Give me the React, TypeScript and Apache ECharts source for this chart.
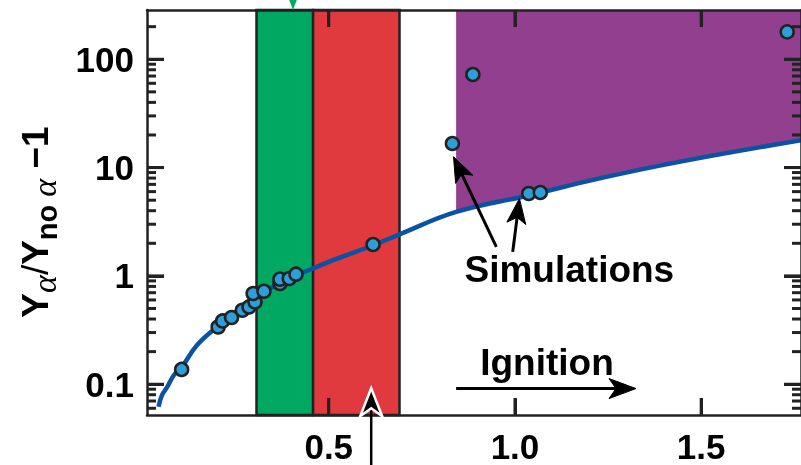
import React, { useEffect, useRef } from 'react';
import * as echarts from 'echarts';

// ---- data ----
const curveX = [0.043, 0.052, 0.066, 0.084, 0.106, 0.146, 0.2, 0.28, 0.325, 0.414, 0.468, 0.512, 0.619, 0.69, 0.842, 1.039, 1.227, 1.441, 1.768];
const curveY = [0.062, 0.079, 0.094, 0.121, 0.145, 0.229, 0.338, 0.556, 0.712, 1.015, 1.21, 1.4, 1.92, 2.42, 3.9, 5.56, 7.95, 11.3, 17.9];

const simX = [0.105, 0.203, 0.215, 0.239, 0.268, 0.286, 0.302, 0.297, 0.326, 0.369, 0.369, 0.394, 0.412, 0.619, 0.832, 0.887, 1.037, 1.068, 1.731];
const simY = [0.137, 0.338, 0.384, 0.413, 0.482, 0.517, 0.575, 0.688, 0.722, 0.851, 0.933, 0.946, 1.037, 1.95, 16.7, 72.4, 5.77, 5.89, 179];

const greenBand = [0.306, 0.458];
const redBand = [0.458, 0.69];
const purpleStart = 0.842;

const xTicks = [0.5, 1.0, 1.5];
const xTickLabels = ['0.5', '1.0', '1.5'];
const yTicks = [0.1, 1, 10, 100];
const yTickLabels = ['0.1', '1', '10', '100'];
const yMinorMultipliers = [2, 3, 4, 5, 6, 7, 8, 9];
const yMinorDecades = [0.01, 0.1, 1, 10, 100];

const X_MIN = 0.012;
const X_MAX = 1.768;
const Y_MIN = 0.052;
const Y_MAX = 285;

// annotation anchors (data coordinates)
const greenMarkerX = 0.404;
const upArrow = { x: 0.614, tipY: 0.0918 };
const simArrows = [
  { from: [0.95, 1.85], to: [0.835, 12.6] },
  { from: [0.994, 1.666], to: [1.012, 5.185] },
];
const simLabel = { text: 'Simulations', x: 1.146, y: 1.14 };
const ignitionLabel = { text: 'Ignition', x: 1.086, y: 0.158 };
const ignitionArrow = { from: [0.842, 0.0912], to: [1.325, 0.0912] };

// ---- styling ----
const AXIS = '#222222';
const GREEN = '#00A862';
const RED = '#E03A3F';
const PURPLE = '#923F8F';
const BLUE = '#0B52A3';
const DOT = '#2C9FDA';
const FONT = '"Liberation Sans", Arial, Helvetica, sans-serif';
const MAJOR_LEN = 17;
const MINOR_LEN = 9;

const lg = (v: number) => Math.log10(v);

export default function App() {
  const ref = useRef<HTMLDivElement>(null);

  useEffect(() => {
    if (!ref.current) return;
    const chart = echarts.init(ref.current, undefined, { renderer: 'svg' });

    const yMajor = yTicks.map(lg);
    const yMinor: number[] = [];
    yMinorDecades.forEach((d) =>
      yMinorMultipliers.forEach((k) => {
        const v = lg(k * d);
        if (v > lg(Y_MIN) && v < lg(Y_MAX)) yMinor.push(v);
      })
    );

    const lineStyle = () => ({ color: AXIS, width: 2.5 });
    const majorTick = (vals: number[]) => ({
      show: true,
      inside: true,
      length: MAJOR_LEN,
      customValues: vals,
      lineStyle: { color: AXIS, width: 3 },
    });
    const labelStyle = {
      fontFamily: FONT,
      fontWeight: 'bold',
      fontSize: 35,
      color: '#000',
    };

    const curveData = curveX.map((x, i) => [x, lg(curveY[i])]);
    const purpleData = curveData.filter((d) => d[0] >= purpleStart);
    const simData = simX.map((x, i) => [x, lg(simY[i])]);

    chart.setOption({
      animation: false,
      grid: { left: 147, top: 10, width: 655, height: 405, containLabel: false },
      xAxis: [
        {
          type: 'value',
          min: X_MIN,
          max: X_MAX,
          position: 'bottom',
          splitLine: { show: false },
          z: 5,
          axisLine: { show: true, onZero: false, lineStyle: lineStyle() },
          axisTick: majorTick(xTicks),
          axisLabel: {
            show: true,
            customValues: xTicks,
            formatter: (v: number) => {
              const i = xTicks.findIndex((t) => Math.abs(t - v) < 1e-6);
              return i >= 0 ? xTickLabels[i] : '';
            },
            ...labelStyle,
            margin: 14,
          },
        },
        {
          type: 'value',
          min: X_MIN,
          max: X_MAX,
          position: 'top',
          splitLine: { show: false },
          z: 5,
          axisLine: { show: true, onZero: false, lineStyle: lineStyle() },
          axisTick: majorTick(xTicks),
          axisLabel: { show: false },
        },
      ],
      yAxis: [
        {
          type: 'value',
          min: lg(Y_MIN),
          max: lg(Y_MAX),
          position: 'left',
          splitLine: { show: false },
          z: 5,
          axisLine: { show: true, onZero: false, lineStyle: lineStyle() },
          axisTick: majorTick(yMajor),
          axisLabel: {
            show: true,
            customValues: yMajor,
            formatter: (v: number) => {
              const i = yMajor.findIndex((t) => Math.abs(t - v) < 1e-6);
              return i >= 0 ? yTickLabels[i] : '';
            },
            ...labelStyle,
            margin: 13,
          },
        },
        {
          type: 'value',
          min: lg(Y_MIN),
          max: lg(Y_MAX),
          position: 'right',
          splitLine: { show: false },
          z: 5,
          axisLine: { show: true, onZero: false, lineStyle: lineStyle() },
          axisTick: majorTick(yMajor),
          axisLabel: { show: false },
        },
      ],
      series: [
        {
          type: 'line',
          name: 'ignition region',
          data: purpleData,
          smooth: 0.4,
          symbol: 'none',
          lineStyle: { width: 0 },
          areaStyle: { color: PURPLE, opacity: 1, origin: 'end' },
          z: 1,
          silent: true,
          markArea: {
            silent: true,
            data: [
              [
                { xAxis: greenBand[0], itemStyle: { color: GREEN, borderColor: AXIS, borderWidth: 2.5 } },
                { xAxis: greenBand[1] },
              ],
              [
                { xAxis: redBand[0], itemStyle: { color: RED, borderColor: AXIS, borderWidth: 2.5 } },
                { xAxis: redBand[1] },
              ],
            ],
          },
        },
        {
          type: 'line',
          name: 'model',
          data: curveData,
          smooth: 0.4,
          symbol: 'none',
          lineStyle: { color: BLUE, width: 4.5 },
          z: 3,
        },
        {
          type: 'scatter',
          name: 'Simulations',
          data: simData,
          symbol: 'circle',
          symbolSize: 13,
          itemStyle: { color: DOT, borderColor: '#222', borderWidth: 2.5, opacity: 1 },
          z: 8,
          clip: false,
        },
      ],
    });

    const px = (x: number, y: number) => chart.convertToPixel({ gridIndex: 0 }, [x, lg(y)]) as number[];
    const pxl = (x: number, ly: number) => chart.convertToPixel({ gridIndex: 0 }, [x, ly]) as number[];

    const g: any[] = [];

    // ticks (positions from the axes' scales), drawn as filled rects
    const bl = pxl(X_MIN, lg(Y_MIN));
    const tr = pxl(X_MAX, lg(Y_MAX));
    const left = bl[0], bottom = bl[1], right = tr[0], top = tr[1];
    const TW = 3;
    const tickRect = (x: number, y: number, w: number, h: number) =>
      g.push({ type: 'rect', z: 25, silent: true, shape: { x, y, width: w, height: h }, style: { fill: AXIS } });
    xTicks.forEach((v) => {
      const x = pxl(v, lg(Y_MIN))[0];
      tickRect(x - TW / 2, bottom - MAJOR_LEN, TW, MAJOR_LEN);
      tickRect(x - TW / 2, top, TW, MAJOR_LEN);
    });
    const yTick = (lv: number, len: number) => {
      const y = pxl(X_MIN, lv)[1];
      tickRect(left, y - TW / 2, len, TW);
      tickRect(right - len, y - TW / 2, len, TW);
    };
    yMajor.forEach((v) => yTick(v, MAJOR_LEN));
    yMinor.forEach((v) => yTick(v, MINOR_LEN));

    const arrow = (tail: number[], tip: number[], L: number, W: number, notch: number, width: number, outline?: string) => {
      const dx = tip[0] - tail[0];
      const dy = tip[1] - tail[1];
      const len = Math.hypot(dx, dy);
      const ux = dx / len;
      const uy = dy / len;
      const nx = -uy;
      const ny = ux;
      const bx = tip[0] - ux * L;
      const by = tip[1] - uy * L;
      const inner = [tip[0] - ux * (L - notch), tip[1] - uy * (L - notch)];
      return [
        {
          type: 'line',
          shape: { x1: tail[0], y1: tail[1], x2: inner[0], y2: inner[1] },
          style: { stroke: '#000', lineWidth: width },
          z: 20,
        },
        {
          type: 'polygon',
          shape: {
            points: [tip, [bx + nx * W, by + ny * W], inner, [bx - nx * W, by - ny * W]],
          },
          style: { fill: '#000', stroke: outline || '#000', lineWidth: outline ? 2.5 : 1 },
          z: 21,
        },
      ];
    };

    const gm = px(greenMarkerX, Y_MAX);
    g.push({
      type: 'polygon',
      shape: { points: [[gm[0] - 4.5, gm[1] - 12], [gm[0] + 4.5, gm[1] - 12], [gm[0], gm[1]]] },
      style: { fill: GREEN },
      z: 20,
    });
    const ua = px(upArrow.x, upArrow.tipY);
    g.push(...arrow([ua[0], 470], ua, 28, 11, 8, 2.5, '#fff'));
    simArrows.forEach((a) => {
      g.push(...arrow(px(a.from[0], a.from[1]), px(a.to[0], a.to[1]), 25, 9.5, 6, 3));
    });
    g.push(...arrow(px(ignitionArrow.from[0], ignitionArrow.from[1]), px(ignitionArrow.to[0], ignitionArrow.to[1]), 27, 10, 7, 3));
    [simLabel, ignitionLabel].forEach((l) => {
      const p = px(l.x, l.y);
      g.push({
        type: 'text',
        x: p[0],
        y: p[1],
        z: 22,
        style: {
          text: l.text,
          font: `bold 37px ${FONT}`,
          fill: '#000',
          textAlign: 'center',
          textVerticalAlign: 'middle',
          align: 'center',
          verticalAlign: 'middle',
        },
      });
    });
    const mainTok = { fontFamily: FONT, fontWeight: 'bold', fontSize: 37, color: '#000', verticalAlign: 'bottom', padding: [0, 0, 7, 0] };
    const subGreek = { fontFamily: '"Liberation Serif", "DejaVu Serif", serif', fontStyle: 'italic', fontSize: 34, color: '#000', verticalAlign: 'bottom' };
    g.push({
      type: 'text',
      x: 39,
      y: 222,
      rotation: Math.PI / 2,
      z: 22,
      style: {
        text: '{Y|Y}{a|α}{sl|/}{Y|Y}{n|no }{a|α}{m| −1}',
        textAlign: 'center',
        textVerticalAlign: 'middle',
        align: 'center',
        verticalAlign: 'middle',
        rich: {
          Y: mainTok,
          m: mainTok,
          sl: { ...mainTok, fontWeight: 'normal' },
          a: subGreek,
          n: { fontFamily: FONT, fontWeight: 'bold', fontSize: 29, color: '#000', verticalAlign: 'bottom' },
        },
      },
    });

    chart.setOption({ graphic: { elements: g } });

    return () => chart.dispose();
  }, []);

  return <div ref={ref} style={{ position: 'fixed', left: 0, top: 0, width: 801, height: 465 }} />;
}
